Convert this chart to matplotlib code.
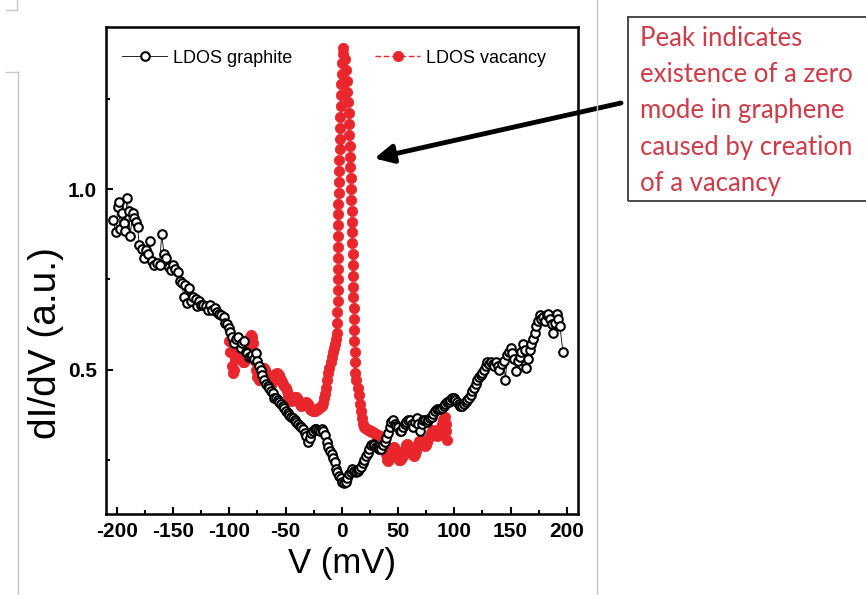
import numpy as np
import matplotlib
matplotlib.use("Agg")
import matplotlib.pyplot as plt
from matplotlib.lines import Line2D
from matplotlib.patches import Rectangle
from matplotlib.ticker import MultipleLocator

plt.rcParams["axes.unicode_minus"] = False
plt.rcParams["font.family"] = ["Liberation Sans", "DejaVu Sans"]

# ---------------
# Data
# ---------------

# LDOS graphite: bias (mV), dI/dV (a.u.)
v_graphite = [
    -203, -201, -199, -198, -197, -195.5, -194, -192.5, -191, -189.5,
    -188, -186, -184.5, -183, -181.5, -180, -178, -176, -174, -172.5,
    -170.5, -168.5, -166.5, -164, -162, -160, -158, -156, -154, -152,
    -150, -148, -146, -144, -142, -140.5, -139, -137.5, -136, -134,
    -132, -130, -128.5, -127, -125, -123, -121, -119, -117, -115,
    -113, -111, -109, -107, -105, -103.5, -102, -100.5, -99, -97.5,
    -96, -94, -92, -90, -88.5, -87, -85.5, -84, -82.5, -81,
    -79.5, -78, -76.5, -75, -73.5, -72, -70.5, -69, -67.5, -66,
    -64.5, -63, -61.5, -60, -58.5, -57, -55.5, -54, -52.5, -51,
    -49.5, -48, -46.5, -45, -43.5, -42, -40.5, -39, -37.5, -36,
    -34.5, -33, -31.5, -30, -28.5, -27, -25.5, -24, -22.5, -21,
    -19.5, -18, -16.5, -15, -13.5, -12, -10.5, -9, -7.5, -6,
    -5, -4, -2.5, -1, 0.5, 2, 3.5, 5, 6.5, 8,
    9.5, 11, 12.5, 14, 15.5, 17, 18.5, 20, 21.5, 23,
    24.5, 26, 27.5, 29, 30.5, 32, 33.5, 35, 36.5, 38,
    39.5, 41, 42.5, 44, 45.5, 47, 48.5, 50, 51.5, 53,
    54.5, 56, 57.5, 59, 60.5, 62, 63.5, 65, 66.5, 68,
    69.5, 71, 72.5, 74, 75.5, 77, 78.5, 80, 81.5, 83,
    84.5, 86, 87.5, 89, 90.5, 92, 93.5, 95, 96.5, 98,
    99.5, 101, 102.5, 104, 105.5, 107, 108.5, 110, 111.5, 113,
    114.5, 116, 117.5, 119, 120.5, 122, 123.5, 125, 126.5, 128,
    129.5, 131, 132.5, 134, 135.5, 137, 138.5, 140, 142, 144,
    145.5, 147, 148.5, 150, 151.5, 153, 155, 156.5, 158, 159.5,
    161, 162.5, 164, 165.5, 167, 168.5, 170, 171.5, 173, 174.5,
    176, 177.5, 179, 180.5, 182, 183.5, 185, 186.5, 188, 189.5,
    191, 192.5, 194, 196.5,
]
g_graphite = [
    0.915, 0.88, 0.95, 0.965, 0.89, 0.935, 0.905, 0.885, 0.975, 0.94,
    0.87, 0.935, 0.92, 0.91, 0.895, 0.845, 0.835, 0.81, 0.83, 0.82,
    0.855, 0.80, 0.79, 0.795, 0.79, 0.875, 0.82, 0.81, 0.785, 0.775,
    0.79, 0.78, 0.77, 0.745, 0.74, 0.70, 0.735, 0.685, 0.725, 0.69,
    0.70, 0.695, 0.675, 0.69, 0.68, 0.68, 0.675, 0.665, 0.68, 0.665,
    0.67, 0.66, 0.655, 0.65, 0.645, 0.63, 0.625, 0.615, 0.605, 0.59,
    0.575, 0.585, 0.59, 0.56, 0.575, 0.58, 0.55, 0.545, 0.535, 0.535,
    0.54, 0.53, 0.545, 0.525, 0.51, 0.50, 0.485, 0.47, 0.46, 0.455,
    0.45, 0.44, 0.435, 0.42, 0.42, 0.415, 0.41, 0.405, 0.40, 0.395,
    0.385, 0.38, 0.375, 0.37, 0.365, 0.36, 0.355, 0.35, 0.345, 0.34,
    0.335, 0.325, 0.315, 0.30, 0.31, 0.325, 0.33, 0.335, 0.335, 0.333,
    0.33, 0.335, 0.33, 0.32, 0.30, 0.285, 0.275, 0.265, 0.255, 0.245,
    0.225, 0.215, 0.205, 0.20, 0.19, 0.185, 0.19, 0.20, 0.21, 0.215,
    0.225, 0.22, 0.215, 0.22, 0.225, 0.23, 0.24, 0.25, 0.26, 0.27,
    0.28, 0.29, 0.295, 0.29, 0.285, 0.285, 0.28, 0.28, 0.29, 0.30,
    0.31, 0.325, 0.34, 0.355, 0.36, 0.35, 0.345, 0.34, 0.33, 0.33,
    0.34, 0.35, 0.355, 0.36, 0.36, 0.35, 0.34, 0.355, 0.365, 0.35,
    0.33, 0.35, 0.36, 0.36, 0.355, 0.36, 0.365, 0.37, 0.378, 0.385,
    0.39, 0.392, 0.39, 0.395, 0.40, 0.405, 0.41, 0.41, 0.415, 0.42,
    0.42, 0.415, 0.41, 0.405, 0.40, 0.40, 0.405, 0.41, 0.415, 0.42,
    0.43, 0.44, 0.45, 0.46, 0.47, 0.48, 0.485, 0.49, 0.50, 0.51,
    0.52, 0.515, 0.52, 0.515, 0.51, 0.52, 0.51, 0.50, 0.515, 0.525,
    0.47, 0.54, 0.55, 0.56, 0.545, 0.53, 0.495, 0.525, 0.535, 0.55,
    0.57, 0.555, 0.505, 0.53, 0.555, 0.57, 0.585, 0.60, 0.62, 0.635,
    0.65, 0.64, 0.645, 0.635, 0.65, 0.655, 0.64, 0.625, 0.60, 0.63,
    0.655, 0.64, 0.62, 0.55,
]

# LDOS vacancy: bias (mV), dI/dV (a.u.)
v_vacancy = [
    -100, -99, -98, -97, -96, -95, -94, -93, -92, -91,
    -90, -89, -88, -87, -86, -85, -84, -83, -82, -81,
    -80, -79, -78, -77, -76, -75, -74, -73, -72, -71,
    -70, -69, -68, -67, -66, -65, -64, -63, -62, -61,
    -60, -59, -58, -57, -56, -55, -54, -53, -52, -51,
    -50, -49, -48, -47, -46, -45, -44, -43, -42, -41,
    -40, -39, -38, -37, -36, -35, -34, -33, -32, -31,
    -30, -29, -28, -27, -26, -25, -24, -23, -22, -21,
    -20, -19, -18, -17, -16, -15, -14, -13, -12, -11,
    -10, -9, -8, -7, -6, -5,
    -4.5, -4.0, -3.8, -3.6, -3.5, -3.4, -3.3, -3.3, -3.2, -3.2,
    -3.1, -3.0, -2.9, -2.8, -2.6, -2.4, -2.2, -2.0, -1.8, -1.5,
    -1.2, -0.9, -0.6, -0.3, 0.0, 0.3, 0.7, 1.1,
    2.5, 3.5, 4.3, 5.0, 5.6, 6.0, 6.4, 6.7, 7.0, 7.3,
    7.6, 7.9, 8.2, 8.5, 8.8, 9.0, 9.3, 9.5, 9.7, 9.9,
    10.1, 10.3, 10.4, 10.6, 10.8, 11.0, 11.2, 11.5, 11.8, 12.2,
    13, 14, 15, 16, 17, 18, 19, 20, 21, 22,
    23, 24, 25, 26, 27, 28, 29, 30, 31, 32,
    33, 34, 35, 36, 37, 38, 39, 40, 41, 42,
    43, 44, 45, 46, 47, 48, 49, 50, 51, 52,
    53, 54, 55, 56, 57, 58, 59, 60, 61, 62,
    63, 64, 65, 66, 67, 68, 69, 70, 71, 72,
    73, 74, 75, 76, 77, 78, 79, 80, 81, 82,
    83, 84, 85, 86, 87, 88, 89, 90, 91, 92,
    92.5, 93, 93.5,
]
g_vacancy = [
    0.58, 0.55, 0.51, 0.49, 0.50, 0.53, 0.55, 0.565, 0.57, 0.565,
    0.55, 0.535, 0.52, 0.52, 0.53, 0.545, 0.56, 0.58, 0.59, 0.595,
    0.59, 0.575, 0.55, 0.525, 0.50, 0.48, 0.47, 0.47, 0.48, 0.49,
    0.50, 0.505, 0.50, 0.49, 0.48, 0.47, 0.46, 0.458, 0.465, 0.472,
    0.48, 0.488, 0.49, 0.488, 0.485, 0.478, 0.47, 0.465, 0.46, 0.455,
    0.45, 0.44, 0.43, 0.42, 0.415, 0.413, 0.415, 0.42, 0.425, 0.424,
    0.42, 0.415, 0.41, 0.404, 0.40, 0.402, 0.405, 0.408, 0.41, 0.408,
    0.405, 0.398, 0.39, 0.387, 0.385, 0.384, 0.385, 0.387, 0.39, 0.392,
    0.395, 0.397, 0.40, 0.408, 0.42, 0.433, 0.45, 0.47, 0.49, 0.505,
    0.52, 0.535, 0.55, 0.56, 0.57, 0.585,
    0.60, 0.63, 0.66, 0.69, 0.72, 0.75, 0.78, 0.81, 0.84, 0.87,
    0.90, 0.93, 0.96, 0.99, 1.02, 1.05, 1.08, 1.11, 1.14, 1.17,
    1.20, 1.23, 1.26, 1.29, 1.32, 1.35, 1.375, 1.39,
    1.36, 1.33, 1.30, 1.27, 1.24, 1.21, 1.18, 1.15, 1.12, 1.09,
    1.06, 1.03, 1.00, 0.97, 0.94, 0.91, 0.88, 0.85, 0.82, 0.79,
    0.76, 0.73, 0.70, 0.67, 0.64, 0.61, 0.58, 0.55, 0.52, 0.49,
    0.47, 0.45, 0.43, 0.405, 0.385, 0.365, 0.35, 0.342, 0.338, 0.335,
    0.333, 0.332, 0.331, 0.33, 0.328, 0.326, 0.324, 0.322, 0.32, 0.318,
    0.316, 0.315, 0.313, 0.31, 0.30, 0.285, 0.265, 0.25, 0.248, 0.255,
    0.265, 0.275, 0.282, 0.285, 0.28, 0.272, 0.262, 0.255, 0.25, 0.25,
    0.253, 0.26, 0.27, 0.28, 0.29, 0.295, 0.291, 0.285, 0.277, 0.27,
    0.263, 0.26, 0.265, 0.275, 0.285, 0.295, 0.302, 0.305, 0.30, 0.295,
    0.29, 0.287, 0.292, 0.30, 0.308, 0.315, 0.323, 0.33, 0.332, 0.33,
    0.322, 0.318, 0.315, 0.32, 0.33, 0.34, 0.35, 0.36, 0.367, 0.37,
    0.35, 0.33, 0.305,
]

x_ticks = [-200, -150, -100, -50, 0, 50, 100, 150, 200]
y_ticks = [0.5, 1.0]

note = ("Peak indicates\nexistence of a zero\nmode in graphene\n"
        "caused by creation\nof a vacancy")

red = "#e8262c"
note_red = "#cf3b47"

# -------------
# Plot
# -------------

W, H = 866, 595
fig = plt.figure(figsize=(W / 100, H / 100), dpi=100)
ax = fig.add_axes([105.5 / W, 1 - 514 / H, (578 - 105.5) / W, (514 - 27) / H])

ax.plot(v_vacancy, g_vacancy, ls=(0, (4, 2)), lw=1.0, color=red,
        marker="o", ms=7.5, mfc=red, mec=red, mew=0.5, label="LDOS vacancy",
        zorder=2)
ax.plot(v_graphite, g_graphite, ls="-", lw=0.6, color="black",
        marker="o", ms=6.2, mfc="white", mec="black", mew=1.5,
        label="LDOS graphite", zorder=3)

ax.set_xlim(-210, 210)
ax.set_ylim(0.10, 1.449)
ax.set_xticks(x_ticks)
ax.set_yticks(y_ticks)
ax.set_yticklabels(["0.5", "1.0"])
ax.xaxis.set_minor_locator(MultipleLocator(25))
ax.yaxis.set_minor_locator(MultipleLocator(0.25))
ax.tick_params(which="both", direction="in", top=False, right=False,
               width=1.5)
ax.tick_params(which="major", length=5, pad=6, labelsize=15)
ax.tick_params(which="minor", length=3)
for lab in ax.get_xticklabels() + ax.get_yticklabels():
    lab.set_fontweight("bold")
for s in ax.spines.values():
    s.set_linewidth(1.8)

ax.set_xlabel("V (mV)", fontsize=25, labelpad=4)
ax.set_ylabel("dI/dV (a.u.)", fontsize=28)
ax.yaxis.set_label_coords(-0.088, 0.35)

h, l = ax.get_legend_handles_labels()
ax.legend(h[::-1], l[::-1], loc="upper left", ncol=2, frameon=False,
          bbox_to_anchor=(0.02, 0.968), borderaxespad=0, fontsize=13,
          handlelength=2.5, handletextpad=0.3, columnspacing=4.6,
          numpoints=1)

# arrow from the note to the peak
ax.annotate("", xy=(29.0, 1.085), xycoords="data",
            xytext=(621 / W, 1 - 103 / H), textcoords="figure fraction",
            arrowprops=dict(arrowstyle="-|>", lw=3.5, color="black",
                            mutation_scale=28, shrinkA=0, shrinkB=0),
            annotation_clip=False)

# note box
fig.add_artist(Rectangle((628 / W, 1 - 201 / H), 300 / W, 184 / H,
                         transform=fig.transFigure, fill=False,
                         edgecolor="#3a3a3a", lw=1.3))
fig.text(640 / W, 1 - 26 / H, note, color=note_red, fontsize=18.5,
         family=["Lato", "DejaVu Sans"], va="top", ha="left",
         linespacing=1.56)

# slide page edges
g = "#c8c8c8"
fig.add_artist(Line2D([597 / W, 597 / W], [0, 1], color=g, lw=1))
fig.add_artist(Line2D([6 / W, 17 / W], [1 - 10 / H, 1 - 10 / H], color=g, lw=1))
fig.add_artist(Line2D([17 / W, 17 / W], [1, 1 - 10 / H], color=g, lw=1))
fig.add_artist(Line2D([6 / W, 18 / W], [1 - 72 / H, 1 - 72 / H], color=g, lw=1))
fig.add_artist(Line2D([18 / W, 18 / W], [1 - 72 / H, 0], color=g, lw=1))

fig.savefig("out.png", dpi=100)
